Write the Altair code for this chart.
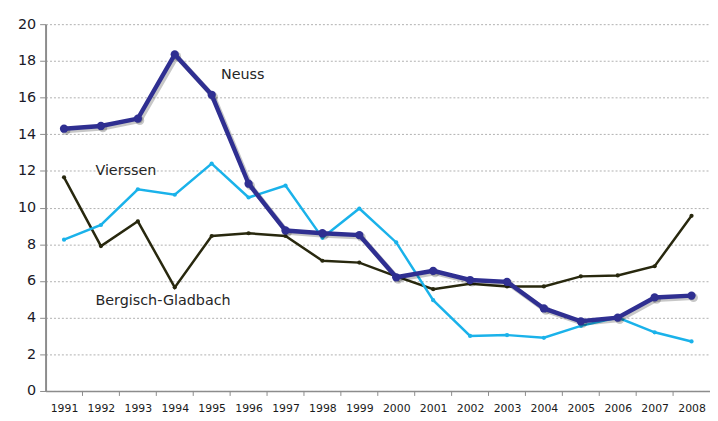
import altair as alt
import pandas as pd

years = list(range(1991, 2009))
neuss = [14.3, 14.45, 14.85, 18.35, 16.15, 11.3, 8.75, 8.6, 8.5, 6.2,
         6.55, 6.05, 5.95, 4.5, 3.8, 4.0, 5.1, 5.2]
vierssen = [8.25, 9.05, 11.0, 10.7, 12.4, 10.55, 11.2, 8.35, 9.95, 8.1,
            4.95, 3.0, 3.05, 2.9, 3.55, 4.0, 3.2, 2.7]
bergisch = [11.65, 7.9, 9.25, 5.65, 8.45, 8.6, 8.45, 7.1, 7.0, 6.25,
            5.55, 5.85, 5.7, 5.7, 6.25, 6.3, 6.8, 9.55]
y_ticks = list(range(0, 21, 2))
label_names = ["Neuss", "Vierssen", "Bergisch-Gladbach"]
label_x = [1995.25, 1991.85, 1991.85]
label_y = [17.25, 11.97, 4.9]
tick_pos = [y + 0.5 for y in years[:-1]]

W, H = 672, 371
xs = alt.Scale(domain=[1990.5, 2008.5], nice=False, zero=False)
ys = alt.Scale(domain=[0, 20], nice=False, zero=True)

FONT = "DejaVu Sans"

def frame(vals):
    return pd.DataFrame({"year": years, "v": vals})

x_axis = alt.Axis(
    values=years, format="d", grid=False, ticks=False, labelPadding=12,
    domainColor="#8c8c8c", domainWidth=1.5, labelFont=FONT, labelFontSize=11,
    labelColor="#1a1a1a", title=None, labelFlush=False, labelOverlap=False)
y_axis = alt.Axis(
    values=y_ticks, grid=True, gridDash=[2, 2], gridColor="#b0b0b0", gridWidth=1,
    tickSize=6, tickColor="#8c8c8c", domainColor="#8c8c8c", domainWidth=2,
    labelPadding=4, labelFont=FONT, labelFontSize=14.5, labelColor="#1a1a28",
    title=None)

x_enc = alt.X("year:Q", scale=xs, axis=x_axis, title=None)
y_enc = alt.Y("v:Q", scale=ys, axis=y_axis, title=None)

ticks = alt.Chart(pd.DataFrame({"year": tick_pos})).mark_rule(
    color="#8c8c8c", strokeWidth=1).encode(
    x=x_enc, y=alt.value(H), y2=alt.value(H + 5))

def series(vals, color, width, size):
    d = frame(vals)
    line = alt.Chart(d).mark_line(color=color, strokeWidth=width).encode(x=x_enc, y=y_enc)
    pts = alt.Chart(d).mark_point(color=color, filled=True, size=size, opacity=1).encode(x=x_enc, y=y_enc)
    return [line, pts]

nd = frame(neuss)
shadow_line = alt.Chart(nd).mark_line(color="#000000", opacity=0.22, strokeWidth=5,
                                      xOffset=2, yOffset=2).encode(x=x_enc, y=y_enc)
shadow_pts = alt.Chart(nd).mark_point(color="#000000", opacity=0.22, filled=True, size=80,
                                      xOffset=2, yOffset=2).encode(x=x_enc, y=y_enc)

labels = alt.Chart(pd.DataFrame({"year": label_x, "v": label_y, "name": label_names})).mark_text(
    align="left", baseline="middle", font=FONT, fontSize=14.5, color="#262626").encode(
    x=x_enc, y=y_enc, text="name:N")

layers = [ticks]
layers += series(bergisch, "#28280e", 2.5, 18)
layers += series(vierssen, "#1ab2ea", 2.5, 18)
layers += [shadow_line, shadow_pts]
layers += series(neuss, "#2f2f91", 4.5, 70)
layers += [labels]

chart = alt.layer(*layers).properties(
    width=W, height=H,
    autosize=alt.AutoSizeParams(type="none"),
    padding={"left": 38, "top": 14, "right": 0, "bottom": 28},
    background="white",
).configure_view(stroke=None)

chart.save("out.html", embed_options={"renderer": "svg", "actions": False})
